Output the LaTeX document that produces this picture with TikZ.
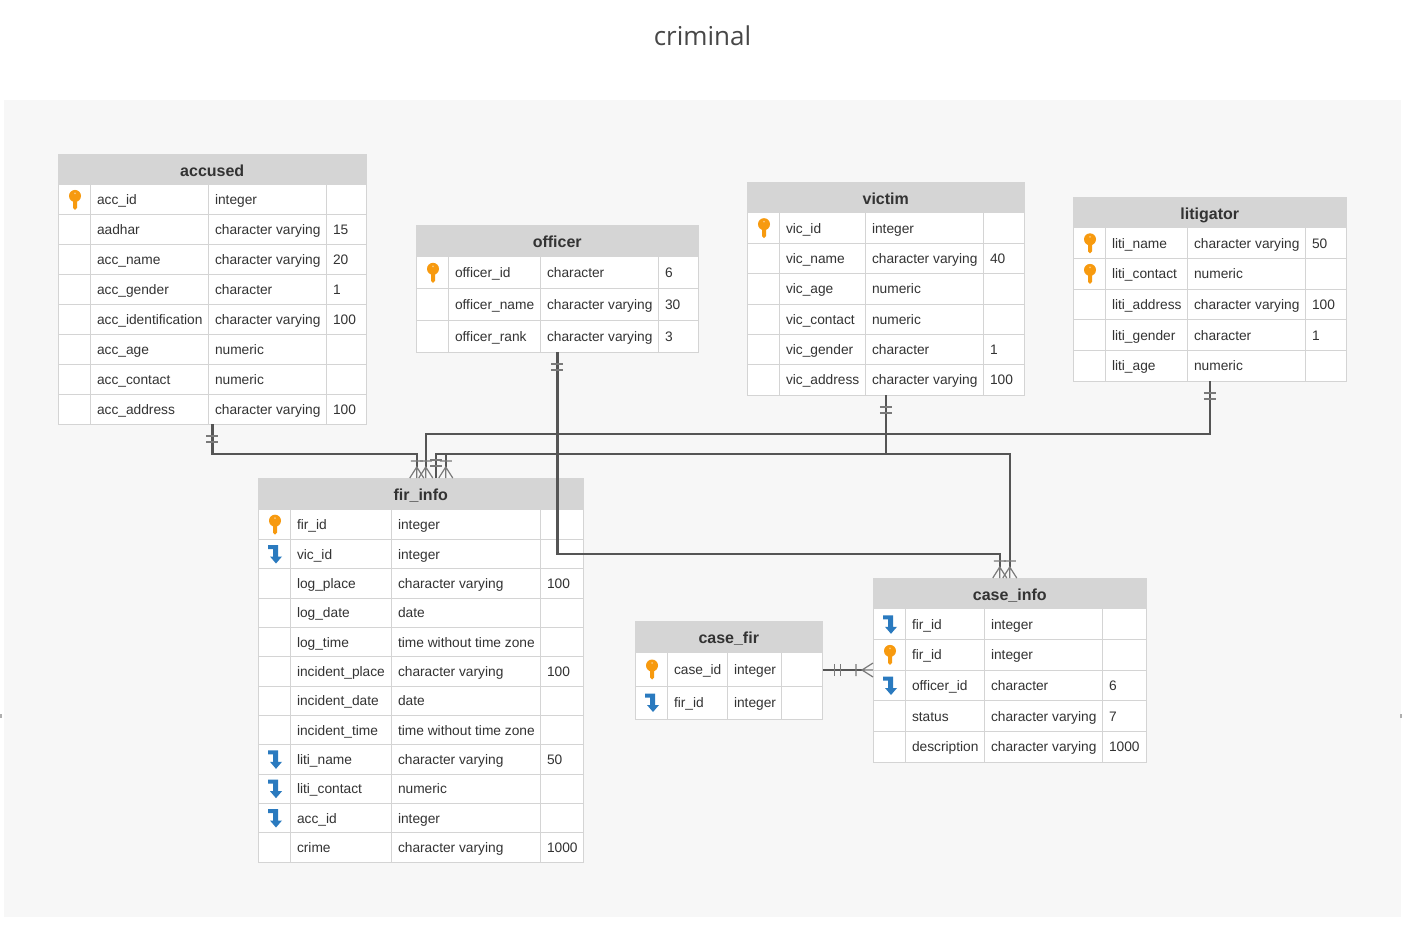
\documentclass[tikz,border=0pt]{standalone}
\usepackage{fontspec}
\setmainfont{Liberation Sans}
\newfontfamily\titlefont{Open Sans}
\usetikzlibrary{positioning}

\definecolor{canvasgrey}{HTML}{F7F7F7}
\definecolor{headgrey}{HTML}{D5D5D5}
\definecolor{gridgrey}{HTML}{D4D4D4}
\definecolor{inkgrey}{HTML}{333333}
\definecolor{relgrey}{HTML}{555555}
\definecolor{footgrey}{HTML}{7A7A7A}
\definecolor{keyorange}{HTML}{F79A0F}
\definecolor{fkblue}{HTML}{2A7ABF}

\tikzset{
  tablebody/.style={draw=gridgrey, line width=1pt, fill=white, inner sep=0pt, outer sep=0pt},
  tablehead/.style={fill=headgrey, inner sep=0pt, outer sep=0pt, text=inkgrey,
    font=\fontsize{16}{16}\selectfont\bfseries, text height=14.5pt, text depth=1.5pt},
  cell/.style={anchor=base west, inner sep=0pt, outer sep=0pt, text=inkgrey,
    font=\fontsize{13.75}{14}\selectfont},
  rowline/.style={draw=gridgrey, line width=1pt},
  colline/.style={draw=gridgrey, line width=1pt},
  rel/.style={draw=relgrey, line width=2.5pt},
  foot/.style={draw=footgrey, line width=1.2pt},
  iconk/.pic={
    \fill [keyorange] (1,-4) circle (6);
    \fill [keyorange] (-1,-2) -- (3,-2) -- (3,8) -- (1,10) -- (-1,8) -- cycle;
    \fill [keyorange!55!white] (1,-6.5) circle (1);
  },
  iconf/.pic={
    \fill [fkblue] (-6,-9) -- (4,-9) -- (4,2.5) -- (8,2.5) -- (2,9.5)
      -- (-4,2.5) -- (-1,2.5) -- (-1,-5) -- (-6,-5) -- cycle;
  },
  iconn/.pic={},
  oneone/.pic={
    \draw [foot] (-6,12) -- (6,12) (-6,18) -- (6,18);
  },
  crowfoot/.pic={
    \draw [foot] (-7,0) -- (0,-11) -- (7,0) (0,-11) -- (0,0) (-6,-17) -- (6,-17);
  }
}

% name, title, five column edges, top/head/bottom/rows, rows
\newcommand{\dbtable}[9]{
  \def\setgeom##1/##2/##3/##4\relax{\def\yt{##1}\def\yh{##2}\def\yb{##3}\def\nrows{##4}}
  \setgeom#8\relax
  \pgfmathsetmacro\rowh{(\yb-\yh)/\nrows}
  \node (#1) [tablebody, minimum width={(#7-#3-0.5)*1pt}, minimum height={(\yb-\yt)*1pt}]
    at ({(#3+#7-0.5)/2},{(\yt+\yb)/2}) {};
  \node (#1-head) [tablehead, minimum width={(#7-#3-0.5)*1pt}, minimum height={(\yh-\yt)*1pt}]
    at ({(#3+#7-0.5)/2},{(\yt+\yh)/2}) {#2};
  \draw [colline] (#4,\yh) -- (#4,\yb) (#5,\yh) -- (#5,\yb) (#6,\yh) -- (#6,\yb);
  \foreach \rowic/\rowname/\rowtype/\rowlen [count=\i] in {#9} {
    \pgfmathsetmacro\rowmid{\yh+(\i-0.5)*\rowh}
    \pgfmathsetmacro\rowend{\yh+\i*\rowh}
    \ifnum\i<\nrows \draw [rowline] (#3,\rowend) -- (#7-0.5,\rowend); \fi
    \pic at ({(#3+#4)/2},\rowmid) {icon\rowic};
    \node (#1-\i-name) [cell] at (#4+7,\rowmid+5) {\rowname};
    \node (#1-\i-type) [cell] at (#5+7,\rowmid+5) {\rowtype};
    \node (#1-\i-len) [cell] at (#6+7,\rowmid+5) {\rowlen};
  }
}

\begin{document}
\begin{tikzpicture}[x=1pt, y=-1pt]
\useasboundingbox (0,0) rectangle (1402,934);

\fill [canvasgrey] (4,99.5) rectangle (1401,917);
\fill [footgrey!60] (0,714) rectangle (2,718);
\fill [footgrey!60] (1400,714) rectangle (1402,718);

\node (title) [inner sep=0pt, text=inkgrey!90!white,
  font=\titlefont\fontsize{26}{26}\selectfont] at (702.5,36) {criminal};

\dbtable{accused}{accused}{58}{90}{208}{326}{367}{154/185/424/8}{
  k/acc\_id/integer/{},
  n/aadhar/character varying/15,
  n/acc\_name/character varying/20,
  n/acc\_gender/character/1,
  n/acc\_identification/character varying/100,
  n/acc\_age/numeric/{},
  n/acc\_contact/numeric/{},
  n/acc\_address/character varying/100}

\dbtable{officer}{officer}{416}{448}{540}{658}{699}{225/257/352/3}{
  k/officer\_id/character/6,
  n/officer\_name/character varying/30,
  n/officer\_rank/character varying/3}

\dbtable{victim}{victim}{747}{779}{865}{983}{1025}{182/213/395/6}{
  k/vic\_id/integer/{},
  n/vic\_name/character varying/40,
  n/vic\_age/numeric/{},
  n/vic\_contact/numeric/{},
  n/vic\_gender/character/1,
  n/vic\_address/character varying/100}

\dbtable{litigator}{litigator}{1073}{1105}{1187}{1305}{1347}{197/228/381/5}{
  k/liti\_name/character varying/50,
  k/liti\_contact/numeric/{},
  n/liti\_address/character varying/100,
  n/liti\_gender/character/1,
  n/liti\_age/numeric/{}}

\dbtable{firinfo}{fir\_info}{258}{290}{391}{540}{584}{478/510/862/12}{
  k/fir\_id/integer/{},
  f/vic\_id/integer/{},
  n/log\_place/character varying/100,
  n/log\_date/date/{},
  n/log\_time/time without time zone/{},
  n/incident\_place/character varying/100,
  n/incident\_date/date/{},
  n/incident\_time/time without time zone/{},
  f/liti\_name/character varying/50,
  f/liti\_contact/numeric/{},
  f/acc\_id/integer/{},
  n/crime/character varying/1000}

\dbtable{casefir}{case\_fir}{635}{667}{727}{781}{823}{621/653/719/2}{
  k/case\_id/integer/{},
  f/fir\_id/integer/{}}

\dbtable{caseinfo}{case\_info}{873}{905}{984}{1102}{1147}{578/609/762/5}{
  f/fir\_id/integer/{},
  k/fir\_id/integer/{},
  f/officer\_id/character/6,
  n/status/character varying/7,
  n/description/character varying/1000}

% feet on the two tables that take many relations
\coordinate (accfoot) at ([xshift=-4pt]firinfo.north);
\coordinate (litifoot) at ([xshift=5pt]firinfo.north);
\coordinate (firout) at ([xshift=15pt]firinfo.north);
\coordinate (vicfoot) at ([xshift=25pt]firinfo.north);
\coordinate (offfoot) at ([xshift=-10pt]caseinfo.north);
\coordinate (firfoot) at (caseinfo.north);

\coordinate (accbend) at (accfoot |- 0,454);
\coordinate (litibend) at (litifoot |- 0,434);
\coordinate (vicbend) at (vicfoot |- 0,454);
\coordinate (offbend) at (offfoot |- 0,554);
\coordinate (firbend) at (firout |- 0,454);
\coordinate (firturn) at (firfoot |- 0,454);

\draw [rel] (accused.south) |- (accbend) -- ([yshift=11pt]accfoot);
\draw [rel] (litigator.south) |- (litibend) -- ([yshift=11pt]litifoot);
\draw [rel] (victim.south) |- (vicbend) -- ([yshift=11pt]vicfoot);
\draw [rel] (officer.south) |- (offbend) -- ([yshift=11pt]offfoot);
\draw [rel] (firout) -- (firbend) -- (firturn) -- ([yshift=11pt]firfoot);
\draw [rel] (casefir.east) -- ([xshift=-10pt]caseinfo.west);

\pic at (accused.south) {oneone};
\pic at (litigator.south) {oneone};
\pic at (victim.south) {oneone};
\pic at (officer.south) {oneone};
\pic [rotate=180] at (firout) {oneone};
\pic [rotate=90] at (casefir.east) {oneone};

\pic at (accfoot) {crowfoot};
\pic at (litifoot) {crowfoot};
\pic at (vicfoot) {crowfoot};
\pic at (offfoot) {crowfoot};
\pic at (firfoot) {crowfoot};
\pic [rotate=90] at (caseinfo.west) {crowfoot};

\end{tikzpicture}
\end{document}
